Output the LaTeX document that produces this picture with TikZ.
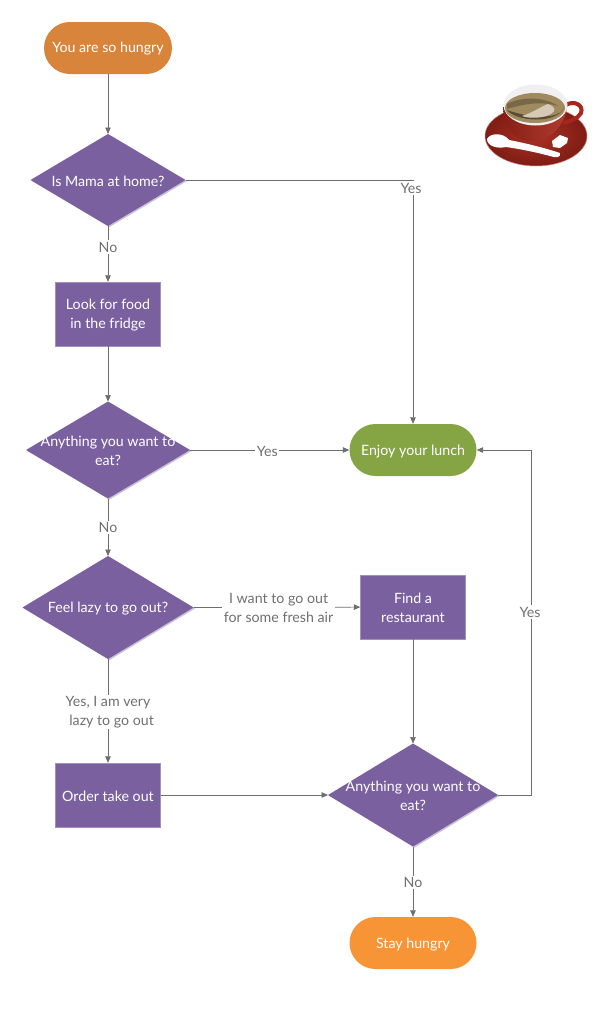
\documentclass[tikz,border=0pt]{standalone}
\usepackage{fontspec}
\setmainfont{Lato}
\usetikzlibrary{shapes.geometric,arrows.meta,calc}
\definecolor{purp}{HTML}{7B609F}
\definecolor{lineg}{HTML}{6E6E6E}
\definecolor{labg}{HTML}{707070}
\definecolor{startc}{HTML}{D9843B}
\definecolor{stayc}{HTML}{F79536}
\definecolor{greenc}{HTML}{85A544}
\definecolor{cupred}{HTML}{A8261A}
\definecolor{coffee}{HTML}{A08A60}
\tikzset{
 x=1pt,y=-1pt,
 txt/.style={font=\fontsize{14.2}{19}\selectfont,text=white,align=center,inner sep=0pt,yshift=-1pt},
 procbox/.style={fill=purp,draw=purp!70!white,line width=.4pt,minimum width=105pt,minimum height=64pt,inner sep=0pt},
 term/.style={rounded corners=26pt,minimum width=127pt,minimum height=52pt,inner sep=0pt},
 conn/.style={draw=lineg,line width=.7pt,-{Triangle[length=6.5pt,width=5.5pt]}},
 lab/.style={font=\fontsize{14.2}{19}\selectfont,text=labg,fill=white,align=center,inner sep=1.5pt,yshift=-1pt},
}
\newcommand{\deciShape}[6]{% name cx cy halfw halfh text
 \fill[purp!40!white] (#2-#4+1.5,#3+1) -- (#2+1.5,#3-#5+1) -- (#2+#4+1.5,#3+1) -- (#2+1.5,#3+#5+1) -- cycle;
 \fill[purp] (#2-#4,#3) -- (#2,#3-#5) -- (#2+#4,#3) -- (#2,#3+#5) -- cycle;
 \coordinate (#1N) at (#2,#3-#5);
 \coordinate (#1S) at (#2,#3+#5);
 \coordinate (#1E) at (#2+#4,#3);
 \coordinate (#1W) at (#2-#4,#3);
 \node[txt] (#1) at (#2,#3) {#6};
}
\begin{document}
\begin{tikzpicture}
\useasboundingbox (0,0) rectangle (600,1010);
\fill[white] (0,0) rectangle (600,1010);

% terminals
\node[term,fill=startc,minimum width=128pt] (start) at (108,48) {};
\node[txt] (startT) at (start) {You are so hungry};
\node[term,fill=greenc] (enjoy) at (413,450) {};
\node[txt,yshift=-1pt] (enjoyT) at (enjoy) {Enjoy your lunch};
\node[term,fill=stayc] (stay) at (413,943) {};
\node[txt,yshift=-1pt] (stayT) at (stay) {Stay hungry};

% decisions
\deciShape{d1}{108}{180}{77.5}{46}{Is Mama at home?}
\deciShape{d2}{108}{450}{82}{48.5}{Anything you want to\\eat?}
\deciShape{d3}{108}{607.5}{85.5}{51.5}{Feel lazy to go out?}
\deciShape{d4}{413}{795}{85}{51.5}{Anything you want to\\eat?}

% boxes
\node[procbox] (fridge) at (108,314) {};
\node[txt] (fridgeT) at (fridge) {Look for food\\in the fridge};
\node[procbox] (find) at (413,607) {};
\node[txt] (findT) at (find) {Find a\\restaurant};
\node[procbox] (order) at (108,795) {};
\node[txt] (orderT) at (order) {Order take out};

% connectors
\draw[conn] (start) -- (d1N);
\draw[conn] (d1S) -- node[lab,pos=.36] (l1) {No} (fridge);
\draw[conn] (fridge) -- (d2N);
\draw[conn] (d2S) -- node[lab,pos=.49] (l2) {No} (d3N);
\draw[conn] (d3S) -- node[lab,pos=.5] (l3) {Yes, I am very\\\ \ lazy to go out} (order);
\draw[conn] (d1E) -| (enjoy);
\node[lab] (l4) at (411,187) {Yes};
\draw[conn] (d2E) -- node[lab,pos=.485] (l5) {Yes} (enjoy);
\draw[conn] (d3E) -- node[lab,pos=.51] (l6) {I want to go out\\for some fresh air} (find);
\draw[conn] (find) -- (d4N);
\draw[conn] (order) -- (d4W);
\draw[conn] (d4E) -- (531,795) |- (enjoy);
\node[lab] (l7) at (530,611) {Yes};
\draw[conn] (d4S) -- node[lab,pos=.5] (l8) {No} (stay);

% coffee cup
\begin{scope}
 \shade[inner color=cupred!95!white,outer color=cupred!75!black] (536,136) ellipse [x radius=51,y radius=30];
 \draw[cupred!55!white,line width=.5pt] (536,136) ellipse [x radius=51,y radius=30];
 \draw[cupred,line width=4pt] (566,105) .. controls (574,100) and (584,105) .. (581,113) .. controls (578,119) and (570,121) .. (563,123);
 \shade[left color=cupred!80!black,right color=cupred!90!white] (503,107) .. controls (504,125) and (512,140) .. (530,141) .. controls (550,142) and (565,125) .. (567,107) -- cycle;
 \fill[white!94!black] (535.5,105) ellipse [x radius=32,y radius=20.5];
 \fill[coffee] (535,108) ellipse [x radius=30,y radius=15];
 \fill[coffee!55!black] (507,110) .. controls (515,121) and (555,125) .. (564,108) .. controls (560,118) and (535,120) .. (507,110) -- cycle;
 \fill[coffee!75!black] (507,104) .. controls (522,96) and (545,97) .. (558,106) .. controls (545,102) and (530,102) .. (507,109) -- cycle;
 \fill[coffee!45!white] (522,116) .. controls (532,113) and (540,107) .. (548,104) .. controls (556,107) and (556,111) .. (551,114) .. controls (544,118) and (530,119) .. (522,116) -- cycle;
 \fill[white] (487,139) .. controls (490,133) and (503,132) .. (509,140) .. controls (525,143) and (545,148) .. (560,153) .. controls (561,158) and (556,158) .. (550,156) .. controls (535,152) and (520,149) .. (506,147) .. controls (497,149) and (487,146) .. (487,139) -- cycle;
 \fill[white] (552,141) -- (560,135) -- (568,138) -- (567,143) -- (560,148) -- (553,147) -- cycle;
\end{scope}
\end{tikzpicture}
\end{document}
